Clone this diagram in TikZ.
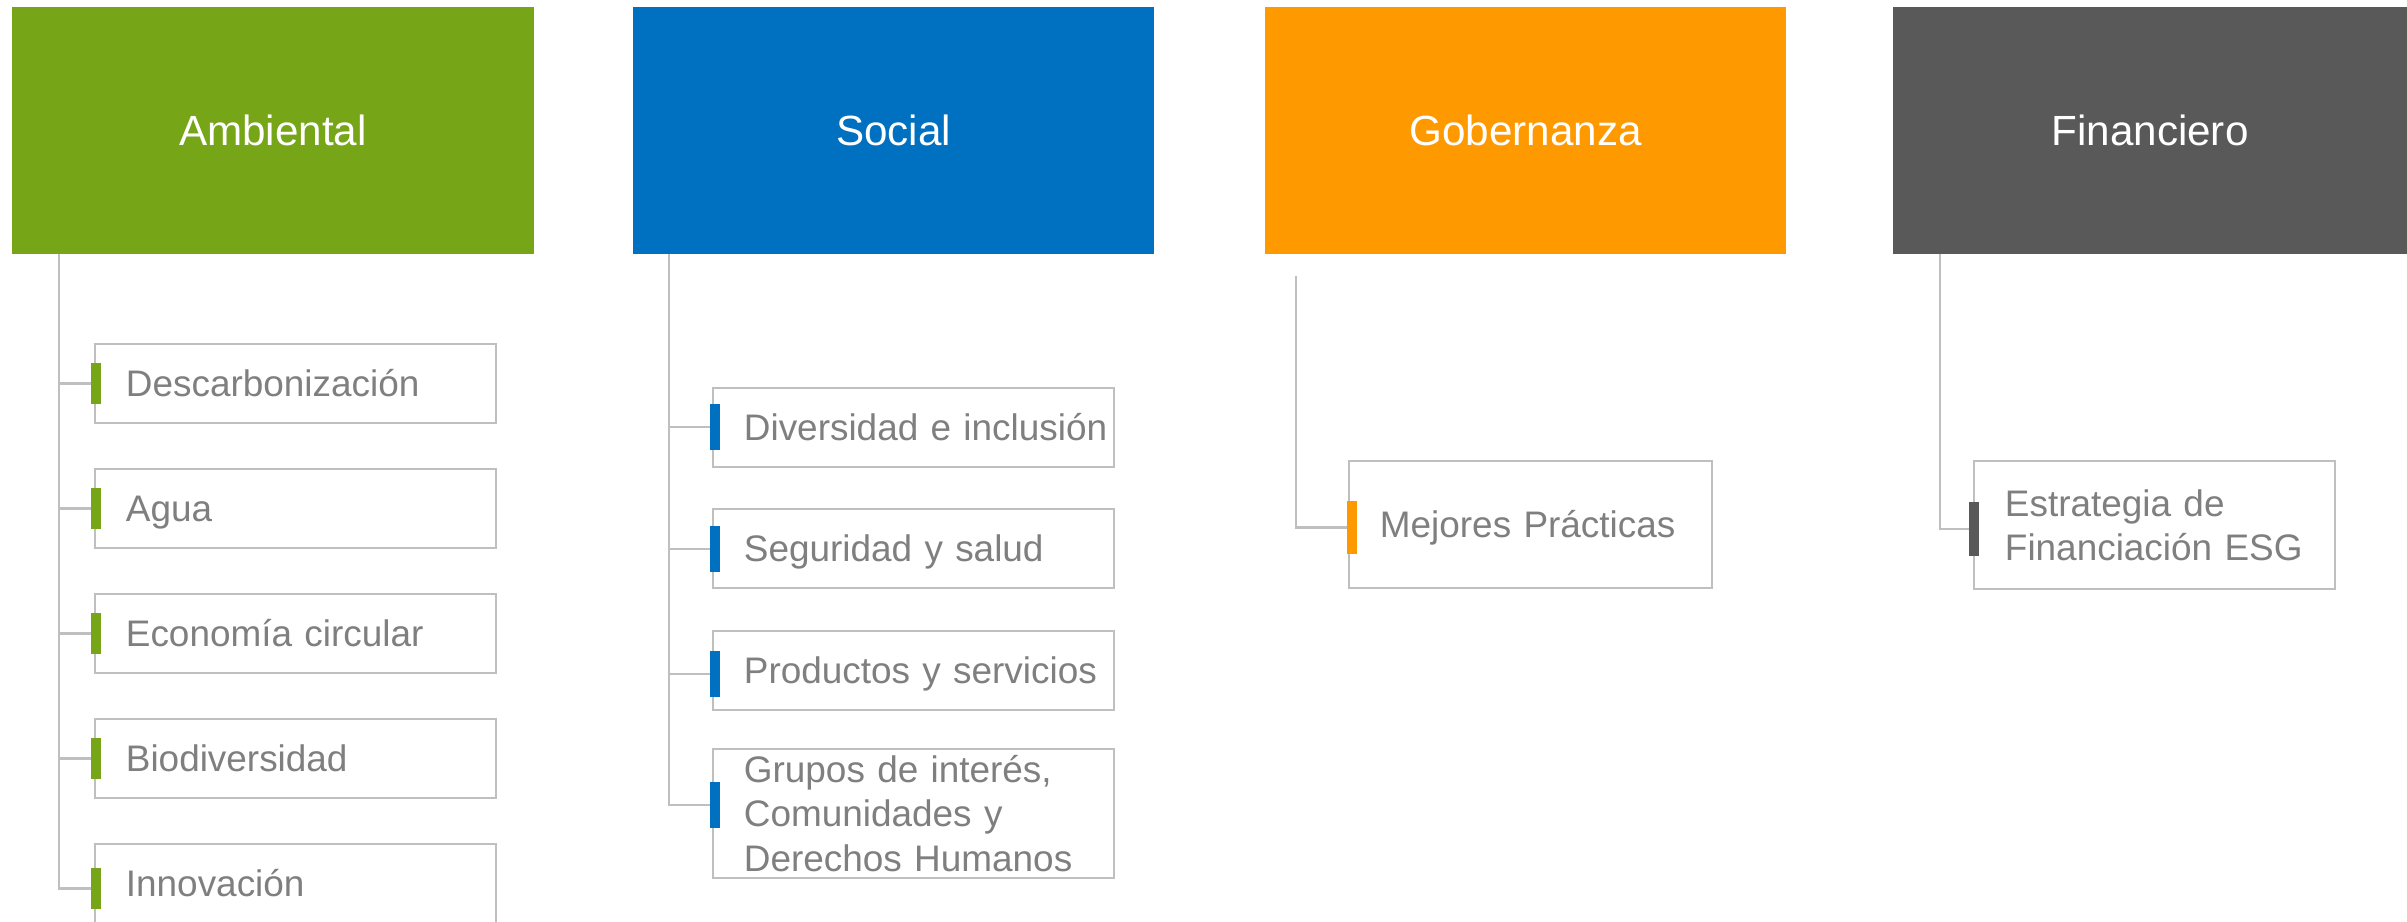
\documentclass[tikz,border=0pt]{standalone}
\usepackage{fontspec}
\setmainfont{Liberation Sans}
\definecolor{cgreen}{HTML}{76A618}
\definecolor{cblue}{HTML}{0070C0}
\definecolor{corange}{HTML}{FF9900}
\definecolor{cdark}{HTML}{595959}
\definecolor{cline}{HTML}{BFBFBF}
\definecolor{ctext}{HTML}{7F7F7F}
\newcommand{\myind}{\hspace*{0.31cm}}
\begin{document}
\begin{tikzpicture}[x=0.01cm,y=-0.01cm,
  head/.style={fill=#1, draw=none, text=white, font=\fontsize{12pt}{14pt}\selectfont,
    inner sep=0pt, outer sep=0pt, minimum height=2.47cm, text height=8.6pt, text depth=0pt},
  itembox/.style={draw=cline, line width=0.6pt, fill=white, text=ctext,
    font=\fontsize{10.5pt}{12.6pt}\selectfont, inner sep=0pt, outer sep=0pt,
    align=left, text width=#1, minimum width=#1},
  oneline/.style={minimum height=0.79cm, text height=7.5pt, text depth=0pt},
  barmark/.style={fill=#1, draw=none, inner sep=0pt, outer sep=0pt, minimum width=0.1cm},
  conn/.style={draw=cline, line width=0.6pt}
]
\useasboundingbox (0,0) rectangle (2407,922);

% headers
\node[head=cgreen, minimum width=5.22cm] (amb) at (273,130.5) {Ambiental};
\node[head=cblue, minimum width=5.21cm] (soc) at (893.5,130.5) {Social};
\node[head=corange, minimum width=5.21cm] (gob) at (1525.5,130.5) {Gobernanza};
\node[head=cdark, minimum width=5.14cm] (fin) at (2150,130.5) {Financiero};

% Ambiental items
\node[itembox=4.01cm, oneline] (a1) at (295.5,383.5) {\myind Descarbonización};
\node[itembox=4.01cm, oneline] (a2) at (295.5,508.5) {\myind Agua};
\node[itembox=4.01cm, oneline] (a3) at (295.5,633.5) {\myind Economía circular};
\node[itembox=4.01cm, oneline] (a4) at (295.5,758.5) {\myind Biodiversidad};
\node[itembox=4.01cm, oneline] (a5) at (295.5,883.5) {\myind Innovación};

\node[barmark=cgreen, minimum height=0.41cm] (am1) at (96,383.5) {};
\node[barmark=cgreen, minimum height=0.41cm] (am2) at (96,508.5) {};
\node[barmark=cgreen, minimum height=0.41cm] (am3) at (96,633.5) {};
\node[barmark=cgreen, minimum height=0.41cm] (am4) at (96,758.5) {};
\node[barmark=cgreen, minimum height=0.41cm] (am5) at (96,888.5) {};

\coordinate (atrunk) at ([xshift=0.47cm]amb.south west);
\draw[conn] (atrunk) |- (am5.west);
\draw[conn] (am1.west -| atrunk) -- (am1.west);
\draw[conn] (am2.west -| atrunk) -- (am2.west);
\draw[conn] (am3.west -| atrunk) -- (am3.west);
\draw[conn] (am4.west -| atrunk) -- (am4.west);

% Social items
\node[itembox=4.01cm, oneline] (s1) at (913.5,427.5) {\myind Diversidad e inclusión};
\node[itembox=4.01cm, oneline] (s2) at (913.5,548.5) {\myind Seguridad y salud};
\node[itembox=4.01cm, oneline] (s3) at (913.5,670.5) {\myind Productos y servicios};
\node[itembox=4.01cm, minimum height=1.29cm] (s4) at (913.5,813.5)
  {\myind Grupos de interés,\\\myind Comunidades y\\\myind Derechos Humanos};

\node[barmark=cblue, minimum height=0.46cm] (sm1) at (715,427) {};
\node[barmark=cblue, minimum height=0.46cm] (sm2) at (715,549) {};
\node[barmark=cblue, minimum height=0.46cm] (sm3) at (715,674) {};
\node[barmark=cblue, minimum height=0.46cm] (sm4) at (715,805) {};

\coordinate (strunk) at ([xshift=0.36cm]soc.south west);
\draw[conn] (strunk) |- (sm4.west);
\draw[conn] (sm1.west -| strunk) -- (sm1.west);
\draw[conn] (sm2.west -| strunk) -- (sm2.west);
\draw[conn] (sm3.west -| strunk) -- (sm3.west);

% Gobernanza
\node[itembox=3.63cm, minimum height=1.27cm, text height=7.5pt, text depth=0pt] (g1) at (1530.5,524.5) {\myind Mejores Prácticas};
\node[barmark=corange, minimum height=0.53cm] (gm1) at (1352,527.5) {};
\coordinate (gtrunk) at ([xshift=0.31cm,yshift=-0.22cm]gob.south west);
\draw[conn] (gtrunk) |- (gm1.west);

% Financiero
\node[itembox=3.61cm, minimum height=1.28cm] (f1) at (2154.5,525)
  {\myind Estrategia de\\\myind Financiación ESG};
\node[barmark=cdark, minimum height=0.54cm] (fm1) at (1974,529) {};
\coordinate (ftrunk) at ([xshift=0.47cm]fin.south west);
\draw[conn] (ftrunk) |- (fm1.west);
\end{tikzpicture}
\end{document}
